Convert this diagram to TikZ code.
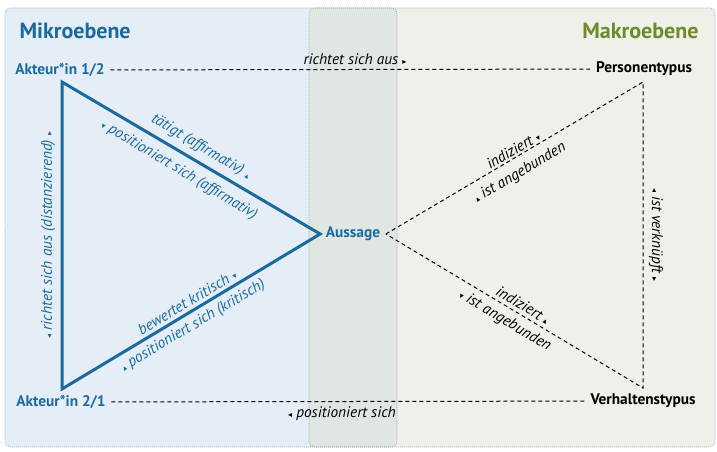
\documentclass[tikz,border=0pt]{standalone}
\usepackage{fontspec}
\setmainfont{PT Sans}
\newfontfamily\symfont{DejaVu Sans}
\usetikzlibrary{positioning}

\definecolor{mikroblau}{RGB}{26,106,158}
\definecolor{makrogruen}{RGB}{110,138,42}
\definecolor{mikrofill}{RGB}{229,238,246}
\definecolor{makrofill}{RGB}{239,240,233}
\definecolor{schnittfill}{RGB}{224,231,227}

% kleine Pfeile
\newcommand{\pfr}{{\symfont\fontsize{6}{6}\selectfont ▸}}
\newcommand{\pfl}{{\symfont\fontsize{6}{6}\selectfont ◂}}
\newcommand{\pfo}{{\symfont\fontsize{6}{6}\selectfont ▴}}
\newcommand{\pfu}{{\symfont\fontsize{6}{6}\selectfont ▾}}

\tikzset{every picture/.style={line width=0.75pt}}
\tikzset{
  ebene/.style={font=\fontsize{16.5}{18}\selectfont\bfseries, inner sep=0.75pt},
  akteur/.style={font=\fontsize{11.5}{13}\selectfont\bfseries, text=mikroblau, inner sep=4pt},
  typus/.style={font=\fontsize{11.5}{13}\selectfont\bfseries, text=black, inner sep=4pt},
  lbl/.style={font=\fontsize{11.5}{13}\selectfont\itshape, inner sep=0.75pt},
  blaulbl/.style={lbl, text=mikroblau},
  rahmen/.style={draw=black!45, line width=0.5pt, dash pattern=on 0.5pt off 1pt, rounded corners=4pt},
  strich/.style={line width=0.75pt, dash pattern=on 3pt off 2.25pt},
  dreieck/.style={draw=mikroblau, line width=2.25pt, line join=miter}
}

\begin{document}
\begin{tikzpicture}[x=0.75pt,y=0.75pt,yscale=-1,xscale=1]
\useasboundingbox (0,0) rectangle (717,452);

%Ebenen
\fill[mikrofill, rounded corners=4pt] (5,8) rectangle (397,447);
\fill[makrofill, rounded corners=4pt] (309,8) rectangle (715,447);
\fill[schnittfill, rounded corners=4pt] (309,8) rectangle (397,447);
\draw[rahmen] (5,8) rectangle (397,447);
\draw[rahmen] (309,8) rectangle (715,447);

% Text Nodes
\node[ebene, text=mikroblau, anchor=west] (mikro) at (18,31) {Mikroebene};
\node[ebene, text=makrogruen, anchor=east] (makro) at (700,31) {Makroebene};
\node[akteur] (akt1) at (60,70) {Akteur*in 1/2};
\node[akteur] (akt2) at (61,402) {Akteur*in 2/1};
\node[akteur] (aussage) at (353,234) {Aussage};
\node[typus] (pers) at (644,69) {Personentypus};
\node[typus] (verh) at (643,401) {Verhaltenstypus};

% Ecken
\coordinate (e1) at (62,82);
\coordinate (e2) at (62,389);
\coordinate (p) at (643,82);
\coordinate (v) at (643,388);

%Dreieck Mikroebene
\draw[dreieck] (e1) -- (aussage.west) -- (e2) -- cycle;
%Dreieck Makroebene
\draw[strich] (aussage.east) -- (p) -- (v) -- cycle;
%Querverbindungen
\draw[strich] (akt1) -- (pers);
\draw[strich] (akt2) -- (verh);

% Beschriftungen
\node[blaulbl, rotate=-30.9] (l1) at (201,147) {tätigt (affirmativ) \pfo};
\node[blaulbl, rotate=-30.9] (l2) at (179,170) {\pfu{} positioniert sich (affirmativ)};
\node[blaulbl, rotate=30.9] (l3) at (187,302) {bewertet kritisch \pfu};
\node[blaulbl, rotate=30.9] (l4) at (193,326) {\pfo{} positioniert sich (kritisch)};
\node[blaulbl, rotate=90] (l5) at (48,235) {\pfl{} richtet sich aus (distanzierend) \pfr};
\node[lbl, rotate=30.8] (l6) at (513,150) {indiziert \pfu};
\node[lbl, rotate=30.8] (l7) at (520,173) {\pfo{} ist angebunden};
\node[lbl, rotate=-90] (l8) at (656,235) {\pfl{} ist verknüpft \pfr};
\node[lbl, rotate=-30.8] (l9) at (523,305) {indiziert \pfo};
\node[lbl, rotate=-30.8] (l10) at (505,321) {\pfu{} ist angebunden};
\node[lbl] (l11) at (355,59) {richtet sich aus \pfr};
\node[lbl] (l12) at (342,414) {\pfl{} positioniert sich};

\end{tikzpicture}
\end{document}
